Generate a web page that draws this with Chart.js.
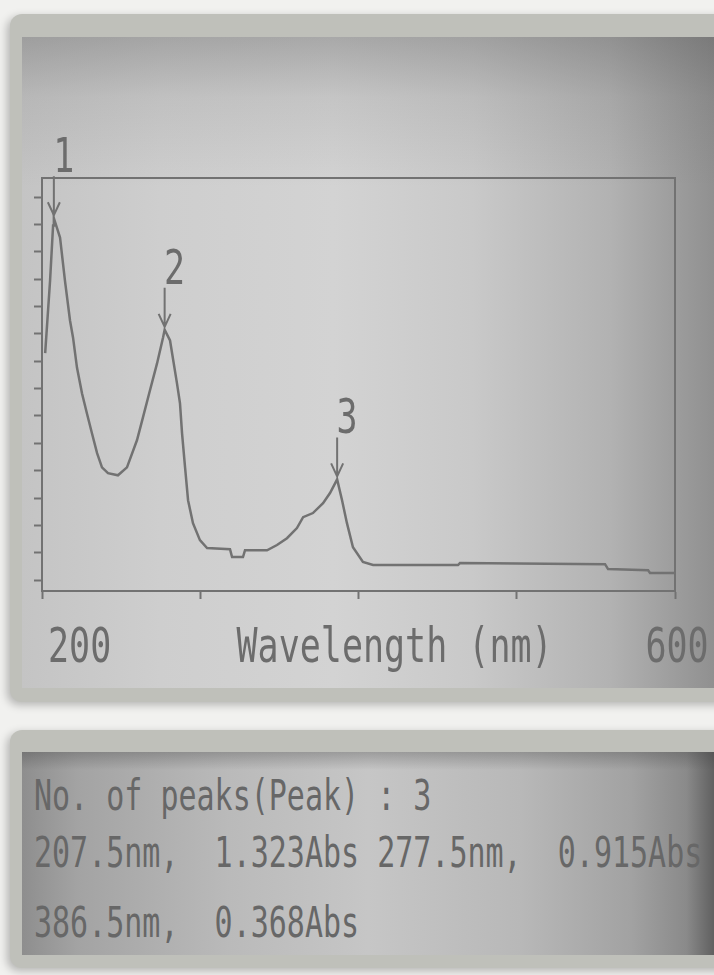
<!DOCTYPE html>
<html>
<head>
<meta charset="utf-8">
<script src="https://cdn.jsdelivr.net/npm/chart.js@4.4.1/dist/chart.umd.min.js"></script>
<style>
  html, body { margin: 0; padding: 0; }
  body {
    width: 714px; height: 975px; position: relative; overflow: hidden;
    background: #f1f1ef;
    font-family: "DejaVu Sans Mono", monospace;
  }
  .frame {
    position: absolute; left: 10px; right: -20px;
    background: #bfc0ba; border-radius: 12px;
    box-shadow: -3px 3px 8px rgba(0, 0, 0, 0.25);
  }
  #topFrame { top: 14px; height: 688px; }
  #bottomFrame { top: 730px; height: 238px; }
  .screen { position: absolute; left: 22px; right: 0; }
  #topScreen {
    top: 37px; height: 651px;
    background:
      linear-gradient(to bottom, rgba(70,70,70,0.3) 0px, rgba(70,70,70,0.1) 60px, rgba(0,0,0,0) 150px),
      linear-gradient(to right, #c4c4c4 0%, #cecece 20%, #d3d3d3 45%, #c9c9c9 65%, #b2b2b2 85%, #909090 100%);
  }
  #bottomScreen {
    top: 752px; height: 203px;
    background:
      linear-gradient(to bottom, rgba(60,60,60,0.3) 0px, rgba(0,0,0,0) 18px),
      linear-gradient(to right, #8e8e8e 0%, #a3a3a3 8%, #bababa 30%, #c6c6c6 50%, #b8b8b8 72%, #a2a2a2 88%, #8a8a8a 96%, #606060 100%);
  }
  #chartBox { position: absolute; left: 0; top: 0; width: 714px; height: 700px; }
  .line {
    position: absolute; left: 34px; margin: 0;
    white-space: pre; font-size: 30px; line-height: 30px; color: #676767;
    transform: scaleY(1.4); transform-origin: 0 25px;
  }
</style>
</head>
<body>
<div class="frame" id="topFrame"></div>
<div class="screen" id="topScreen"></div>
<div class="frame" id="bottomFrame"></div>
<div class="screen" id="bottomScreen"></div>
<div id="chartBox"><canvas id="spectrum"></canvas></div>
<p class="line" id="line1" style="top:785px"></p>
<p class="line" id="line2" style="top:842px"></p>
<p class="line" id="line3" style="top:912px"></p>

<script>
// Absorbance spectrum
const wavelength = [202, 205.1, 207, 207.5, 211.4, 214.5, 217.7, 219.6, 222.1, 225.3,
  228.4, 231.6, 234.8, 237.9, 241.7, 248, 253.7, 260, 263.8, 268.2,
  272.7, 276.5, 277.5, 280.9, 285.3, 287.2, 288.5, 290.4, 292.3, 295.4,
  299.8, 304.3, 318.8, 320.1, 327, 328.3, 342.2, 348.5, 354.8, 361.1,
  365, 371.2, 377.6, 382, 386.5, 389.6, 392.7, 396.5, 402.8, 409.2,
  462.9, 464.1, 555.8, 557.7, 583, 584.2, 600];
const absorbance = [0.83, 1.095, 1.296, 1.323, 1.252, 1.095, 0.949, 0.887, 0.777, 0.682,
  0.609, 0.536, 0.464, 0.412, 0.391, 0.383, 0.412, 0.511, 0.595, 0.693,
  0.792, 0.887, 0.915, 0.876, 0.719, 0.646, 0.536, 0.412, 0.292, 0.208,
  0.146, 0.117, 0.113, 0.084, 0.084, 0.109, 0.109, 0.128, 0.153, 0.19,
  0.23, 0.245, 0.281, 0.318, 0.368, 0.292, 0.208, 0.12, 0.066, 0.055,
  0.055, 0.062, 0.058, 0.04, 0.036, 0.026, 0.026];

const peakNm = [207.5, 277.5, 386.5];
const peakAbs = [1.323, 0.915, 0.368];

const xTicks = [200, 300, 400, 500, 600];
const yTicks = [0, 0.1, 0.2, 0.3, 0.4, 0.5, 0.6, 0.7, 0.8, 0.9, 1.0, 1.1, 1.2, 1.3, 1.4];
const xLabelValues = [200, 600];
const xTitle = "Wavelength (nm)";

const INK = "#727272";
const TEXT = "#6c6c6c";
const yRange = { min: -0.04, max: 1.47 };

// peak readout panel below the plot
document.getElementById("line1").textContent = "No. of peaks(Peak) : " + peakNm.length;
const readout = peakNm.map((nm, i) => nm.toFixed(1) + "nm,  " + peakAbs[i].toFixed(3) + "Abs");
document.getElementById("line2").textContent = readout.slice(0, 2).join(" ");
document.getElementById("line3").textContent = readout.slice(2).join(" ");

// tall dot-matrix style labels + peak arrows
const screenText = {
  id: "screenText",
  afterDraw(chart) {
    const { ctx, chartArea, scales: { x, y } } = chart;
    const drawTall = (txt, tx, ty, align) => {
      ctx.save();
      ctx.translate(tx, ty);
      ctx.scale(1, 1.35);
      ctx.textAlign = align;
      ctx.textBaseline = "alphabetic";
      ctx.fillText(txt, 0, 0);
      ctx.restore();
    };
    ctx.save();
    ctx.fillStyle = TEXT;
    ctx.strokeStyle = INK;
    ctx.lineWidth = 2;
    ctx.font = '35px "DejaVu Sans Mono"';

    const base = chartArea.bottom + 71;
    xLabelValues.forEach((v, i) => {
      const px = x.getPixelForValue(v);
      if (i === 0) drawTall(String(v), px + 6, base, "left");
      else drawTall(String(v), px + 2, base, "center");
    });
    drawTall(xTitle, chartArea.left + 0.557 * (chartArea.right - chartArea.left), base, "center");

    peakNm.forEach((nm, i) => {
      const px = x.getPixelForValue(nm);
      const py = y.getPixelForValue(peakAbs[i]);
      ctx.beginPath();
      ctx.moveTo(px, py - 42);
      ctx.lineTo(px, py - 3);
      ctx.moveTo(px - 6, py - 16);
      ctx.lineTo(px, py - 3);
      ctx.lineTo(px + 6, py - 16);
      ctx.stroke();
      drawTall(String(i + 1), px + 10, py - 46, "center");
    });
    ctx.restore();
  },
};

new Chart(document.getElementById("spectrum"), {
  type: "line",
  data: {
    datasets: [
      {
        data: wavelength.map((w, i) => ({ x: w, y: absorbance[i] })),
        borderColor: INK,
        borderWidth: 2.5,
        pointRadius: 0,
        tension: 0,
        fill: false,
      },
    ],
  },
  options: {
    responsive: true,
    maintainAspectRatio: false,
    animation: false,
    layout: { padding: { left: 34, top: 178, right: 39, bottom: 101 } },
    plugins: { legend: { display: false }, tooltip: { enabled: false } },
    scales: {
      x: {
        type: "linear",
        min: 200,
        max: 600,
        afterBuildTicks: (s) => { s.ticks = xTicks.map((v) => ({ value: v })); },
        ticks: { display: false },
        grid: { drawOnChartArea: false, tickLength: 8, tickColor: INK, tickWidth: 2 },
        border: { color: INK, width: 2 },
      },
      y: {
        min: yRange.min,
        max: yRange.max,
        afterBuildTicks: (s) => { s.ticks = yTicks.map((v) => ({ value: v })); },
        ticks: { display: false },
        grid: { drawOnChartArea: false, tickLength: 8, tickColor: INK, tickWidth: 2 },
        border: { color: INK, width: 2 },
      },
      x2: {
        type: "linear",
        axis: "x",
        position: "top",
        min: 200,
        max: 600,
        ticks: { display: false },
        grid: { display: false, drawTicks: false },
        border: { color: INK, width: 2 },
      },
      y2: {
        type: "linear",
        axis: "y",
        position: "right",
        min: yRange.min,
        max: yRange.max,
        ticks: { display: false },
        grid: { display: false, drawTicks: false },
        border: { color: INK, width: 2 },
      },
    },
  },
  plugins: [screenText],
});
</script>
</body>
</html>
